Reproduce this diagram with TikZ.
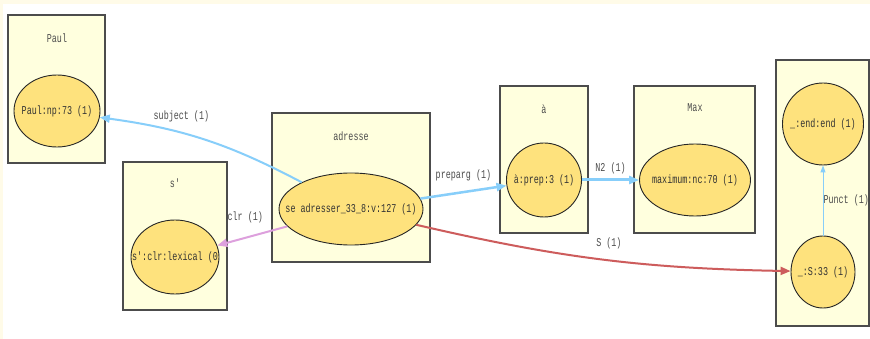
\documentclass[tikz,border=0pt]{standalone}
\usepackage{fontspec}
\setmonofont[FakeStretch=0.7]{Liberation Mono}
\usetikzlibrary{shapes.geometric, arrows.meta, shadows}
\definecolor{clusterfill}{RGB}{255,255,222}
\definecolor{wordfill}{RGB}{254,226,125}
\definecolor{bluelink}{RGB}{135,206,250}
\definecolor{plumlink}{RGB}{221,160,221}
\definecolor{redlink}{RGB}{205,92,92}
\definecolor{cream}{RGB}{255,251,232}
\tikzset{
  cluster/.style={draw=black!70, line width=1.2pt, fill=clusterfill, inner sep=0pt,
    drop shadow={shadow xshift=0.6pt, shadow yshift=-1.2pt, fill=black!45, opacity=1}},
  word/.style={draw=black!85, line width=0.9pt, fill=wordfill, ellipse, inner sep=0pt,
    text=black!80, font=\ttfamily\fontsize{12}{13}\selectfont},
  ctitle/.style={text=black!70, font=\ttfamily\fontsize{12}{13}\selectfont},
  lbl/.style={text=black!70, inner sep=1pt, font=\ttfamily\fontsize{12}{13}\selectfont},
  link/.style={-{Triangle[length=10pt,width=8pt]}, line width=2pt},
}
\begin{document}
\begin{tikzpicture}[x=1pt, y=-1pt]
    \useasboundingbox (0,0) rectangle (870,339);
    \fill[white] (0,0) rectangle (870,339);
    \fill[cream] (0,0) rectangle (870,4);
    \fill[cream] (0,0) rectangle (3,339);

    % clusters
    \node[cluster, minimum width=97pt, minimum height=148pt] (cpaul) at (56.5,89) {};
    \node[cluster, minimum width=104pt, minimum height=148pt] (cse) at (175,236) {};
    \node[cluster, minimum width=158pt, minimum height=149pt] (cadresse) at (351,187.5) {};
    \node[cluster, minimum width=88pt, minimum height=147pt] (ca) at (544,159.5) {};
    \node[cluster, minimum width=121pt, minimum height=147pt] (cmax) at (694.5,159.5) {};
    \node[cluster, minimum width=93pt, minimum height=266pt] (cpunct) at (822.5,193) {};

    \node[ctitle] (tpaul) at (57,38) {Paul};
    \node[ctitle] (tse) at (175,183) {s′};
    \node[ctitle] (tadresse) at (351,136) {adresse};
    \node[ctitle] (ta) at (544,109) {à};
    \node[ctitle] (tmax) at (695,108) {Max};

    % words
    \node[word, minimum width=86pt, minimum height=72pt] (paul) at (57,111) {\makebox[0pt]{Paul:np:73 (1)}};
    \node[word, minimum width=88pt, minimum height=74pt] (se) at (175,257) {\makebox[0pt]{s′:clr:lexical (0}};
    \node[word, minimum width=144pt, minimum height=72pt] (adresser) at (351,209) {\makebox[0pt]{se adresser\_33\_8:v:127 (1)}};
    \node[word, minimum width=75pt, minimum height=74pt] (a) at (544,180) {\makebox[0pt]{à:prep:3 (1)}};
    \node[word, minimum width=111pt, minimum height=72pt] (max) at (695,180) {\makebox[0pt]{maximum:nc:70 (1)}};
    \node[word, minimum width=81pt, minimum height=82pt] (end) at (823,124) {\makebox[0pt]{\_:end:end (1)}};
    \node[word, minimum width=64pt, minimum height=72pt] (s) at (823,272) {\makebox[0pt]{\_:S:33 (1)}};

    % links
    \draw[link, bluelink] (adresser) to[bend right=10] node[lbl, pos=0.62, above=9pt] {subject (1)} (paul);
    \draw[link, plumlink] (adresser) -- node[lbl, pos=0.6, above=13pt] {clr (1)} (se);
    \draw[link, bluelink, line width=2.5pt] (adresser) -- node[lbl, above=9pt] {preparg (1)} (a);
    \draw[link, bluelink, line width=3pt] (a) -- node[lbl, above=4pt] {N2 (1)} (max);
    \draw[link, redlink] (adresser) to[bend right=6] node[lbl, pos=0.52, above=9pt] {S (1)} (s);
    \draw[-{Triangle[length=7pt,width=5pt]}, bluelink, line width=1pt] (s) -- node[lbl, inner sep=0pt, right=0pt] {Punct (1)} (end);
\end{tikzpicture}
\end{document}
